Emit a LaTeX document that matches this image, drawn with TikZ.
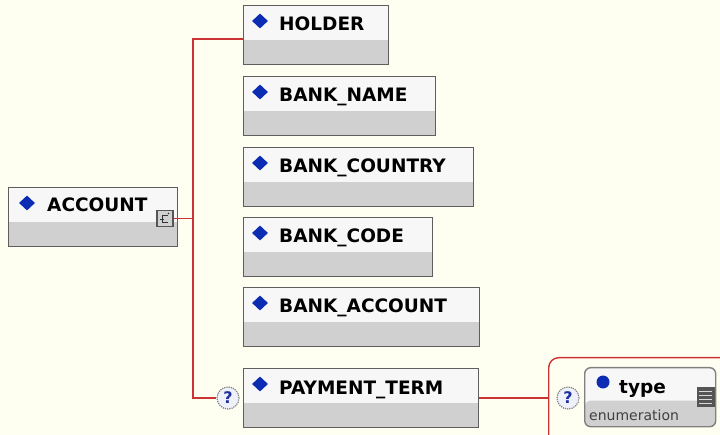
\documentclass[tikz,border=0pt]{standalone}
\usepackage{fontspec}
\setmainfont{DejaVu Sans}
\usetikzlibrary{shapes.geometric,calc}
\definecolor{bg}{HTML}{FFFFF1}
\definecolor{boxborder}{HTML}{5E5E5E}
\definecolor{boxtop}{HTML}{F7F7F7}
\definecolor{boxgray}{HTML}{D0D0D0}
\definecolor{conn}{HTML}{CC3333}
\definecolor{diablue}{HTML}{0C2CB4}
\definecolor{qfill}{HTML}{EEF0FA}
\definecolor{qblue}{HTML}{1E2E9E}
\definecolor{icongray}{HTML}{555555}
\tikzset{
  elbox/.style={rectangle, draw=boxborder, line width=1.4pt, fill=boxtop, anchor=north west,
    minimum height=59pt, inner sep=0pt,
    path picture={\fill[boxgray] ([yshift=-34pt]path picture bounding box.north west) rectangle (path picture bounding box.south east);}},
  dia/.style={diamond, fill=diablue, minimum width=16pt, minimum height=15pt, inner sep=0pt},
  elabel/.style={font=\fontsize{18.5}{20}\selectfont\bfseries, inner sep=0pt, anchor=base west},
  qmark/.style={circle, draw=gray, densely dotted, line width=1.2pt, fill=qfill, minimum size=22pt,
    inner sep=0pt, font=\fontsize{16}{17}\selectfont\bfseries, text=qblue},
  wire/.style={draw=conn, line width=1.8pt},
}
\newcommand\elem[5]{%
  \node[elbox, minimum width=#4pt] (#1) at (#2,#3) {};
  \node[dia] (#1d) at ([xshift=17pt,yshift=-16pt]#1.north west) {};
  \node[elabel] (#1t) at ([xshift=36pt,yshift=-26pt]#1.north west) {#5};
}
\begin{document}
\begin{tikzpicture}[x=1pt,y=-1pt]
\useasboundingbox[fill=bg] (0,0) rectangle (720,435);

% main element
\node[elbox, minimum width=169pt] (account) at (8,187) {};
\node[dia] (accountd) at ([xshift=19pt,yshift=-16pt]account.north west) {};
\node[elabel] (accountt) at ([xshift=39pt,yshift=-25pt]account.north west) {ACCOUNT};
\node[rectangle, draw=icongray, line width=1.2pt, fill=boxgray, minimum width=16pt, minimum height=16pt, inner sep=0pt] (seq) at (165,218.5) {};
\draw[line width=0.9pt, black!80] ([shift={(3,-3)}]seq.center) -- ([shift={(-3,-3)}]seq.center) -- ([shift={(-3,4)}]seq.center) -- ([shift={(3,4)}]seq.center);
\draw[line width=0.9pt, black!80] ([shift={(-5,1)}]seq.center) -- ([shift={(-1,1)}]seq.center);
\fill[black!80] ([shift={(3.5,-5)}]seq.center) circle (0.8);

% children
\elem{holder}{243}{5}{145}{HOLDER}
\elem{bankname}{243}{76}{192}{BANK\_NAME}
\elem{bankcountry}{243}{147}{230}{BANK\_COUNTRY}
\elem{bankcode}{243}{217}{189}{BANK\_CODE}
\elem{bankaccount}{243}{287}{236}{BANK\_ACCOUNT}
\elem{payment}{243}{368}{235}{PAYMENT\_TERM}

\node[qmark] (q1) at (228,398) {?};

% connectors
\coordinate (junc) at (193,218.5);
\draw[wire] (seq.east) -- (junc);
\draw[wire] ([yshift=-4pt]holder.west) -| (junc) |- (q1.west);

% simple type
\node[rectangle, rounded corners=10pt, draw=conn, line width=1.4pt, fill=bg, anchor=north west,
  minimum width=190pt, minimum height=90pt] (choice) at (548,357) {};
\draw[wire] (payment.east) -- (choice.west |- payment.east);
\node[qmark] (q2) at (568,398) {?};
\node[rectangle, rounded corners=6pt, draw=gray, line width=1.4pt, fill=boxtop, anchor=north west,
  minimum width=131pt, minimum height=59pt, inner sep=0pt,
  path picture={\fill[boxgray] ([yshift=-33pt]path picture bounding box.north west) rectangle (path picture bounding box.south east);}] (type) at (584,367) {};
\node[circle, fill=diablue, minimum size=13pt, inner sep=0pt] (typed) at (603,382) {};
\node[elabel, font=\fontsize{18.5}{20}\selectfont\bfseries] (typet) at (619,393) {type};
\node[inner sep=0pt, anchor=base west, font=\fontsize{14}{16}\selectfont, text=black!75] (enumt) at (589,420) {enumeration};
\node[rectangle, fill=icongray, minimum width=18pt, minimum height=20pt, inner sep=0pt] (facets) at (706,397) {};
\foreach \dy in {-6,-2,2,6}
  \draw[white!85!black, line width=1pt] ([shift={(-7,\dy)}]facets.center) -- ([shift={(6,\dy)}]facets.center);
\end{tikzpicture}
\end{document}
